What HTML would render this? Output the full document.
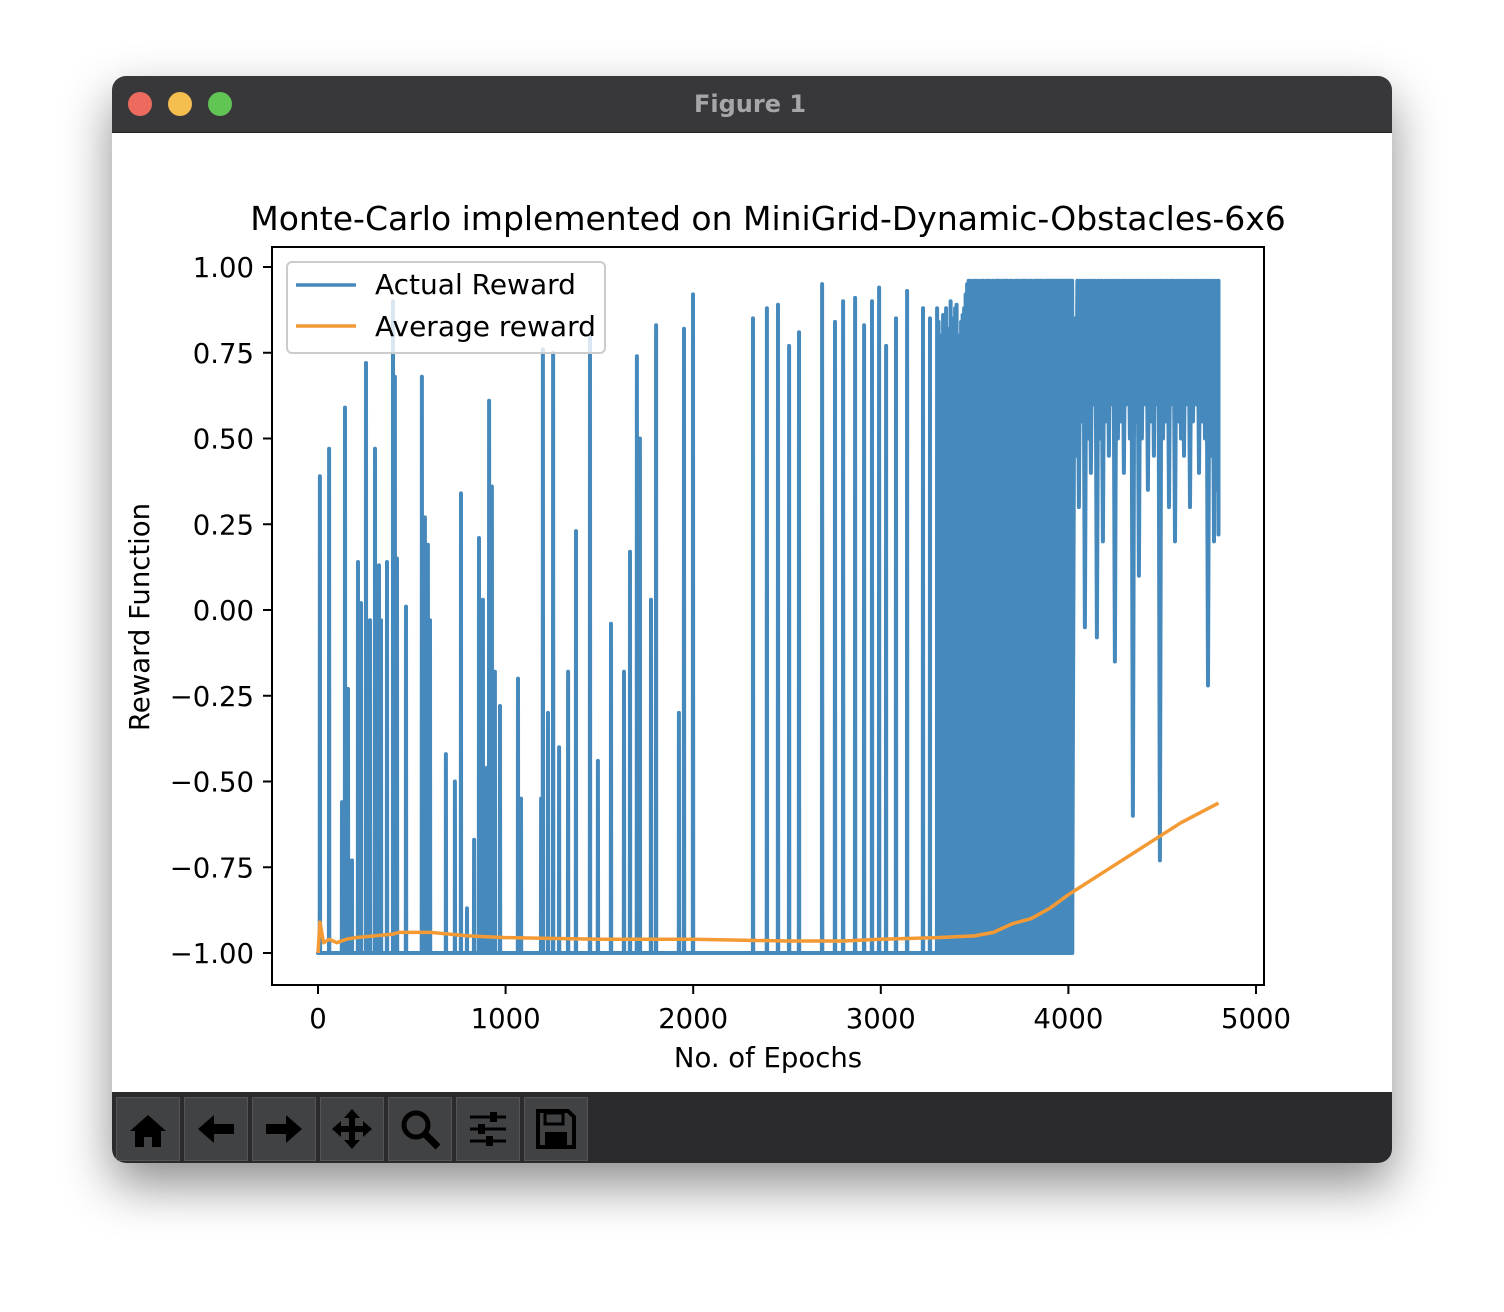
<!DOCTYPE html>
<html><head><meta charset="utf-8"><style>
body{margin:0;width:1504px;height:1312px;background:#fff;position:relative;overflow:hidden;font-family:"Liberation Sans","DejaVu Sans",sans-serif}
#win{position:absolute;left:112px;top:76px;width:1280px;height:1087px;border-radius:14px;background:#fff;box-shadow:0 22px 50px rgba(0,0,0,.45);overflow:hidden}
#tb{position:absolute;left:0;top:0;width:1280px;height:56px;background:#38383a;border-bottom:1px solid #222}
.dot{position:absolute;top:16px;width:24px;height:24px;border-radius:50%}
#ttl{position:absolute;top:14px;width:1276px;text-align:center;color:#a6a6a8;font-weight:bold;font-size:24px;font-family:"DejaVu Sans",sans-serif}
#tool{position:absolute;left:0;top:1016px;width:1280px;height:71px;background:#2b2b2d}
.btn{position:absolute;top:5px;width:62px;height:62px;background:#414244;border:1px solid #555}
.btn svg{position:absolute;left:9px;top:9px}
</style></head><body>
<div id="win">
 <div id="tb">
  <div class="dot" style="left:16px;background:#ed6a5e"></div>
  <div class="dot" style="left:56px;background:#f5bf4f"></div>
  <div class="dot" style="left:96px;background:#61c554"></div>
  <div id="ttl">Figure 1</div>
 </div>
 <div id="tool">
  <div class="btn" style="left:4px"><svg width="44" height="44"><path d="M4 24 L22 8 L40 24 L35 24 L35 40 L26 40 L26 30 L18 30 L18 40 L9 40 L9 24Z" fill="#000"/></svg></div>
  <div class="btn" style="left:72px"><svg width="44" height="44"><path d="M4 22 L20 8 L20 17 L40 17 L40 27 L20 27 L20 36Z" fill="#000"/></svg></div>
  <div class="btn" style="left:140px"><svg width="44" height="44"><path d="M40 22 L24 8 L24 17 L4 17 L4 27 L24 27 L24 36Z" fill="#000"/></svg></div>
  <div class="btn" style="left:208px"><svg width="44" height="44"><path d="M22 2 L30 11 L25 11 L25 19 L33 19 L33 14 L42 22 L33 30 L33 25 L25 25 L25 33 L30 33 L22 42 L14 33 L19 33 L19 25 L11 25 L11 30 L2 22 L11 14 L11 19 L19 19 L19 11 L14 11Z" fill="#000"/></svg></div>
  <div class="btn" style="left:276px"><svg width="44" height="44"><circle cx="18" cy="18" r="12" stroke="#000" stroke-width="5" fill="none"/><path d="M27 27 L40 40" stroke="#000" stroke-width="7"/></svg></div>
  <div class="btn" style="left:344px"><svg width="44" height="44"><g stroke="#000" stroke-width="3"><path d="M4 10H40M4 22H40M4 34H40"/></g><rect x="24" y="5" width="7" height="10" fill="#000"/><rect x="12" y="17" width="7" height="10" fill="#000"/><rect x="20" y="29" width="7" height="10" fill="#000"/></svg></div>
  <div class="btn" style="left:412px"><svg width="44" height="44"><path d="M4 4 H34 L40 10 V40 H4Z" fill="none" stroke="#000" stroke-width="4"/><rect x="11" y="6" width="18" height="11" fill="none" stroke="#000" stroke-width="3"/><rect x="11" y="25" width="22" height="13" fill="#000"/></svg></div>
 </div>
</div>
<svg id="plot" width="1504" height="1312" style="position:absolute;left:0;top:0"></svg>
<script>
const xTicks=[0,1000,2000,3000,4000,5000];
const yTicks=[1.00,0.75,0.50,0.25,0.00,-0.25,-0.50,-0.75,-1.00];
const yTickLabels=["1.00","0.75","0.50","0.25","0.00","\u22120.25","\u22120.50","\u22120.75","\u22121.00"];
// isolated successful episodes [epoch, reward]
const spikeEpochs=[10,59,128,144,160,181,213,229,256,277,304,325,336,368,400,410,421,469,554,570,586,597,682,730,762,794,832,858,879,901,912,927,943,970,1066,1082,1189,1199,1226,1253,1285,1333,1375,1450,1492,1562,1631,1663,1700,1716,1775,1802,1924,1951,1999,2319,2393,2452,2511,2564,2687,2756,2799,2863,2911,2953,2991,3028,3081,3140,3225,3262,3300];
const spikeValues=[0.39,0.47,-0.56,0.59,-0.23,-0.73,0.14,0.02,0.72,-0.03,0.47,0.13,-0.03,0.14,0.9,0.68,0.15,0.01,0.68,0.27,0.19,-0.03,-0.42,-0.5,0.34,-0.87,-0.67,0.21,0.03,-0.46,0.61,0.36,-0.18,-0.28,-0.2,-0.55,-0.55,0.76,-0.3,0.75,-0.4,-0.18,0.23,0.8,-0.44,-0.04,-0.18,0.17,0.74,0.5,0.03,0.83,-0.3,0.82,0.92,0.85,0.88,0.89,0.77,0.81,0.95,0.84,0.9,0.91,0.83,0.9,0.94,0.77,0.85,0.93,0.88,0.85,0.88];
// dense phase 3308..4020 step 8
const denseStart=3308, denseStep=8;
const denseValues=[0.84,0.8,0.62,0.86,0.7,0.88,0.82,0.76,0.9,0.85,0.78,0.88,0.89,0.7,0.8,0.84,0.86,0.88,0.92,0.95,0.96,0.95,0.96,0.9,0.96,0.96,0.94,0.96,0.95,0.96,0.96,0.93,0.96,0.96,0.96,0.95,0.96,0.94,0.96,0.96,0.96,0.96,0.95,0.96,0.96,0.96,0.96,0.93,0.96,0.96,0.92,0.96,0.96,0.96,0.95,0.96,0.96,0.96,0.96,0.96,0.95,0.96,0.96,0.94,0.96,0.96,0.96,0.96,0.96,0.96,0.95,0.96,0.96,0.96,0.96,0.96,0.96,0.96,0.96,0.96,0.96,0.96,0.96,0.96,0.96,0.96,0.96,0.96,0.96,0.96];
// late phase 4024..4800: high/low pairs
const lateStart=4024, lateStep=16;
const lateHigh=[0.85,0.96,0.96,0.96,0.96,0.96,0.96,0.96,0.96,0.96,0.96,0.96,0.96,0.96,0.96,0.96,0.96,0.96,0.96,0.96,0.96,0.96,0.96,0.96,0.96,0.96,0.96,0.96,0.96,0.96,0.96,0.96,0.96,0.96,0.96,0.96,0.96,0.96,0.96,0.96,0.96,0.96,0.96,0.96,0.96,0.96,0.96,0.96,0.96];
const lateLow=[-0.37,0.45,0.3,0.55,-0.05,0.5,0.4,0.6,-0.08,0.5,0.2,0.55,0.45,0.6,-0.15,0.5,0.55,0.4,0.6,0.5,-0.6,0.55,0.1,0.5,0.6,0.35,0.55,0.45,0.6,-0.73,0.5,0.55,0.3,0.6,0.2,0.55,0.5,0.45,0.6,0.3,0.55,0.6,0.4,0.55,0.5,-0.22,0.45,0.2,0.35];
// running average
const avgEpochs=[0,10,30,60,100,150,200,300,400,430,600,800,1000,1500,2000,2500,2800,3000,3300,3500,3600,3700,3800,3900,4000,4200,4400,4600,4800];
const avgValues=[-1,-0.91,-0.97,-0.96,-0.97,-0.96,-0.955,-0.95,-0.945,-0.94,-0.94,-0.95,-0.955,-0.96,-0.96,-0.965,-0.965,-0.96,-0.955,-0.95,-0.94,-0.915,-0.9,-0.87,-0.83,-0.76,-0.69,-0.62,-0.563];

const NS="http://www.w3.org/2000/svg";
const svg=document.getElementById('plot');
const X=v=>318+v*(1256-318)/5000;
const Y=v=>953-(v+1)*(953-267)/2;
function el(t,a,p){const e=document.createElementNS(NS,t);for(const k in a)e.setAttribute(k,a[k]);(p||svg).appendChild(e);return e;}
const BLUE="#4689bd",ORANGE="#f39a35";
let pts=[[0,-1]];
const spikes=spikeEpochs.map((e,i)=>[e,spikeValues[i]]);
denseValues.forEach((v,i)=>spikes.push([denseStart+i*denseStep,v]));
spikes.sort((a,b)=>a[0]-b[0]);
spikes.forEach(s=>{pts.push([s[0]-1,-1]);pts.push([s[0],s[1]]);pts.push([s[0]+1,-1]);});
pts.push([4020,-1]);
lateHigh.forEach((h,i)=>{const e=lateStart+i*lateStep;pts.push([e,lateLow[i]]);pts.push([e+lateStep/2,h]);});
pts.push([4800,0.22]);
const d="M"+pts.map(p=>X(p[0]).toFixed(1)+","+Y(p[1]).toFixed(1)).join("L");
const actual=el('path',{d:d,fill:'none',stroke:BLUE,'stroke-width':4,'stroke-linejoin':'round','stroke-linecap':'round'});


const ad="M"+avgEpochs.map((e,i)=>X(e).toFixed(1)+","+Y(avgValues[i]).toFixed(1)).join("L");
const avg=el('path',{d:ad,fill:'none',stroke:ORANGE,'stroke-width':3.5,'stroke-linejoin':'round'});


const frame=el('rect',{x:272,y:247,width:992,height:738,fill:'none',stroke:'#000','stroke-width':2});


xTicks.forEach(t=>{
 const l=el('line',{x1:X(t),x2:X(t),y1:985,y2:994,stroke:'#000','stroke-width':2});
 
 
 const tx=el('text',{x:X(t),y:1028,'text-anchor':'middle','font-size':27.5,fill:'#000','font-family':'DejaVu Sans, sans-serif'});
 tx.textContent=t;
 
 
});
yTicks.forEach((t,i)=>{
 const l=el('line',{x1:263,x2:272,y1:Y(t),y2:Y(t),stroke:'#000','stroke-width':2});
 
 
 const tx=el('text',{x:254,y:Y(t)+10,'text-anchor':'end','font-size':27.5,fill:'#000','font-family':'DejaVu Sans, sans-serif'});
 tx.textContent=yTickLabels[i];
 
 
});
function txt(s,a,name){const t=el('text',Object.assign({fill:'#000','font-family':'DejaVu Sans, sans-serif'},a));t.textContent=s;return t;}
txt("Monte-Carlo implemented on MiniGrid-Dynamic-Obstacles-6x6",{x:768,y:230,'text-anchor':'middle','font-size':33},'chart-title');
txt("No. of Epochs",{x:768,y:1067,'text-anchor':'middle','font-size':27.5},'x-axis-title');
txt("Reward Function",{x:0,y:0,'text-anchor':'middle','font-size':27.5,transform:'translate(149,617) rotate(-90)'},'y-axis-title');
const lg=el('g',{});


el('rect',{x:287,y:262,width:318,height:91,rx:5,fill:'#fff','fill-opacity':0.8,stroke:'#ccc','stroke-width':2},lg);
el('line',{x1:296,x2:356,y1:285,y2:285,stroke:BLUE,'stroke-width':3.5},lg);
el('line',{x1:296,x2:356,y1:326,y2:326,stroke:ORANGE,'stroke-width':3.5},lg);
const t1=el('text',{x:375,y:294,'font-size':28,fill:'#000','font-family':'DejaVu Sans, sans-serif'},lg);t1.textContent="Actual Reward";


const t2=el('text',{x:375,y:336,'font-size':28,fill:'#000','font-family':'DejaVu Sans, sans-serif'},lg);t2.textContent="Average reward";


</script>
</body></html>
